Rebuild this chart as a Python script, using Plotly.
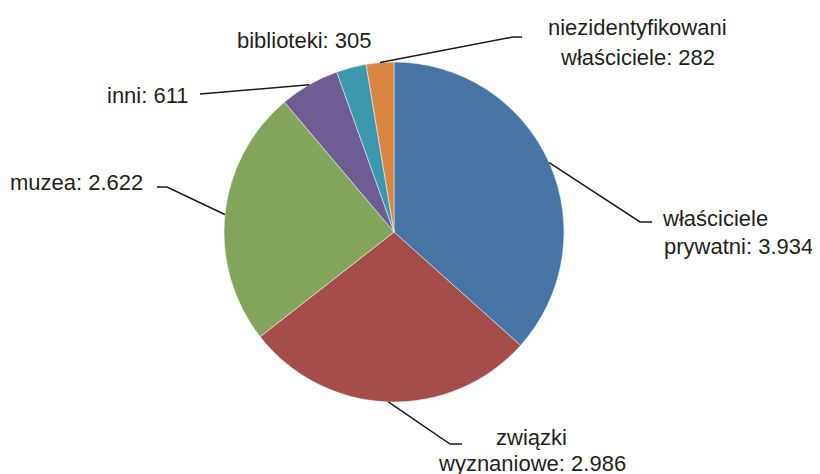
import math
import plotly.graph_objects as go

# ---- data ----
labels = ["właściciele prywatni", "związki wyznaniowe", "muzea", "inni",
          "biblioteki", "niezidentyfikowani właściciele"]
values = [3934, 2986, 2622, 611, 305, 282]
colors = ["#4675a6", "#a44d4b", "#82a55b", "#6e5c93", "#3b98ae", "#d98742"]

# page body has an 8px margin; work in reference pixel coords and shift
OFF = 8
W, H = 820 - OFF, 474 - OFF
CX, CY, R = 394, 232, 170
FONT = "Liberation Sans, Arial, sans-serif"
FS = 22

def px(x, y):
    return (x - OFF) / W, 1 - (y - OFF) / H

x0, y1 = px(CX - R, CY - R)
x1, y0 = px(CX + R, CY + R)

fig = go.Figure(go.Pie(
    labels=labels, values=values, sort=False, direction="clockwise",
    rotation=0, textinfo="none", hoverinfo="label+value",
    marker=dict(colors=colors, line=dict(color="rgba(255,255,255,0.6)", width=0.8)),
    domain=dict(x=[x0, x1], y=[y0, y1]),
    showlegend=False,
))

# label layout: (elbow point, line end, list of (text, x, y, xanchor))
layout_spec = [
    ((640, 222), (652, 222), [("właściciele", 660, 219, "left"),
                              ("prywatni: 3.934", 815, 246, "right")]),
    ((450, 444), (462, 444), [("związki", 531, 437, "center"),
                              ("wyznaniowe: 2.986", 532, 463, "center")]),
    ((167, 187), (157, 187), [("muzea: 2.622", 145, 183, "right")]),
    ((212, 93), (200, 94), [("inni: 611", 191, 95, "right")]),
    (None, None, [("biblioteki: 305", 304, 40, "center")]),
    ((513, 37), (522, 37), [("niezidentyfikowani", 637, 27, "center"),
                            ("właściciele: 282", 637, 57, "center")]),
]

total = sum(values)
cum = 0
shapes, annotations = [], []
for v, spec in zip(values, layout_spec):
    mid = (cum + v / 2) / total * 2 * math.pi
    cum += v
    elbow, end, texts = spec
    if elbow is not None:
        sx, sy = CX + R * math.sin(mid), CY - R * math.cos(mid)
        pts = [px(sx, sy), px(*elbow), px(*end)]
        path = "M {} {} L {} {} L {} {}".format(*[c for p in pts for c in p])
        shapes.append(dict(type="path", path=path, xref="paper", yref="paper",
                           line=dict(color="#1a1a1a", width=1.5)))
    for t, x, y, xa in texts:
        ax, ay = px(x, y)
        annotations.append(dict(text=t, x=ax, y=ay, xref="paper", yref="paper",
                                xanchor=xa, yanchor="middle", showarrow=False,
                                font=dict(family=FONT, size=FS, color="#231f20")))

fig.update_layout(
    width=W, height=H, margin=dict(l=0, r=0, t=0, b=0),
    paper_bgcolor="white", plot_bgcolor="white",
    shapes=shapes, annotations=annotations,
)
fig.write_html("out.html")
